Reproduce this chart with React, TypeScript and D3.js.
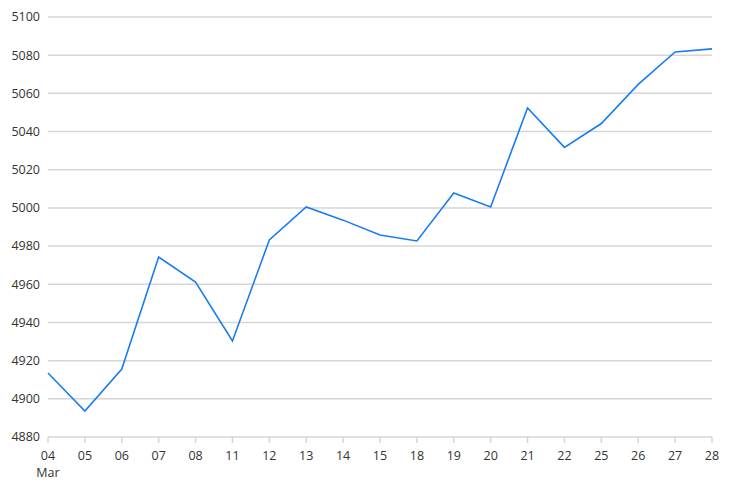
import React from 'react';
import * as d3 from 'd3';

// trading days in March
const days = ['04', '05', '06', '07', '08', '11', '12', '13', '14', '15', '18', '19', '20', '21', '22', '25', '26', '27', '28'];
const prices = [4913.5, 4893.6, 4915.6, 4974.3, 4961.2, 4930.3, 4983.2, 5000.5, 4993.6, 4985.8, 4982.7, 5007.8, 5000.5, 5052.4, 5031.7, 5044.2, 5064.7, 5081.7, 5083.3];
const yTicks = [4880, 4900, 4920, 4940, 4960, 4980, 5000, 5020, 5040, 5060, 5080, 5100];

const W = 734;
const H = 492;
const left = 48;
const right = 712;
const top = 17;
const bottom = 437;

const App: React.FC = () => {
  const x = d3.scalePoint<string>().domain(days).range([left, right]);
  const y = d3.scaleLinear().domain([4880, 5100]).range([bottom, top]);

  const line = d3.line<number>()
    .x((_, i) => x(days[i]) as number)
    .y(d => y(d));

  const font = '"Open Sans", sans-serif';

  return (
    <svg width={W} height={H} style={{ position: 'absolute', left: 0, top: 0 }}>
      <rect width={W} height={H} fill="#fff" />
      {yTicks.map(t => (
        <g key={t}>
          <line x1={left} x2={right} y1={y(t)} y2={y(t)} stroke="#d6d6d6" strokeWidth={1.5} />
          <text x={40} y={y(t)} dy="0.35em" textAnchor="end" fontFamily={font} fontSize={12.5} fill="#333">{t}</text>
        </g>
      ))}
      {days.map((d, i) => (
        <g key={d}>
          <line x1={x(d)} x2={x(d)} y1={bottom} y2={bottom + 6} stroke="#d6d6d6" strokeWidth={1.5} />
          <text x={x(d)} y={460} textAnchor="middle" fontFamily={font} fontSize={12.5} fill="#333">{d}</text>
          {i === 0 && (
            <text x={x(d)} y={477} textAnchor="middle" fontFamily={font} fontSize={12.5} fill="#333">Mar</text>
          )}
        </g>
      ))}
      <path d={line(prices) || ''} fill="none" stroke="#1a7cf0" strokeWidth={1.6} />
    </svg>
  );
};

export default App;
